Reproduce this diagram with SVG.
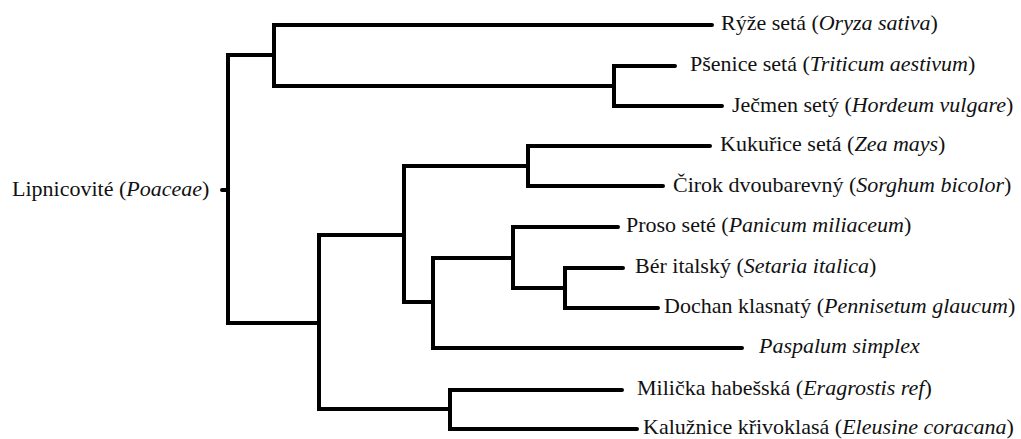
<svg xmlns="http://www.w3.org/2000/svg" width="1021" height="439" viewBox="0 0 1021 439">
<style>
.e{fill:none;stroke:#000;stroke-width:4;stroke-linejoin:miter;stroke-linecap:round}
.t{font-family:'Liberation Serif','Times New Roman',serif;font-size:22px;fill:#111}
.i{font-style:italic}
</style>
<rect width="1021" height="439" fill="#fff"/>
<g id="connectors">
<path class="e" d="M222,190 H228"/>
<path class="e" d="M274,55 H228 V323 H319"/>
<path class="e" d="M712,25 H274 V86 H614"/>
<path class="e" d="M675,66 H614 V106 H722"/>
<path class="e" d="M404,235 H319 V409 H450"/>
<path class="e" d="M528,166 H404 V302 H433"/>
<path class="e" d="M710,146 H528 V186 H663"/>
<path class="e" d="M513,258 H433 V348 H742"/>
<path class="e" d="M618,227 H513 V288 H565"/>
<path class="e" d="M623,268 H565 V308 H658"/>
<path class="e" d="M622,390 H450 V429 H637"/>
</g>
<g class="t">
<g id="root"><text x="12" y="196">Lipnicovité (<tspan class="i">Poaceae</tspan>)</text></g>
<g id="oryza"><text x="721" y="30">Rýže setá (<tspan class="i">Oryza sativa</tspan>)</text></g>
<g id="triticum"><text x="690" y="71">Pšenice setá (<tspan class="i">Triticum aestivum</tspan>)</text></g>
<g id="hordeum"><text x="732" y="112">Ječmen setý (<tspan class="i">Hordeum vulgare</tspan>)</text></g>
<g id="zea"><text x="720" y="151">Kukuřice setá (<tspan class="i">Zea mays</tspan>)</text></g>
<g id="sorghum"><text x="673" y="192">Čirok dvoubarevný (<tspan class="i">Sorghum bicolor</tspan>)</text></g>
<g id="panicum"><text x="626" y="232">Proso seté (<tspan class="i">Panicum miliaceum</tspan>)</text></g>
<g id="setaria"><text x="635" y="273">Bér italský (<tspan class="i">Setaria italica</tspan>)</text></g>
<g id="pennisetum"><text x="664" y="313">Dochan klasnatý (<tspan class="i">Pennisetum glaucum</tspan>)</text></g>
<g id="paspalum"><text x="759" y="353"><tspan class="i">Paspalum simplex</tspan></text></g>
<g id="eragrostis"><text x="637" y="395">Milička habešská (<tspan class="i">Eragrostis ref</tspan>)</text></g>
<g id="eleusine"><text x="643" y="434">Kalužnice křivoklasá (<tspan class="i">Eleusine coracana</tspan>)</text></g>
</g>
</svg>
